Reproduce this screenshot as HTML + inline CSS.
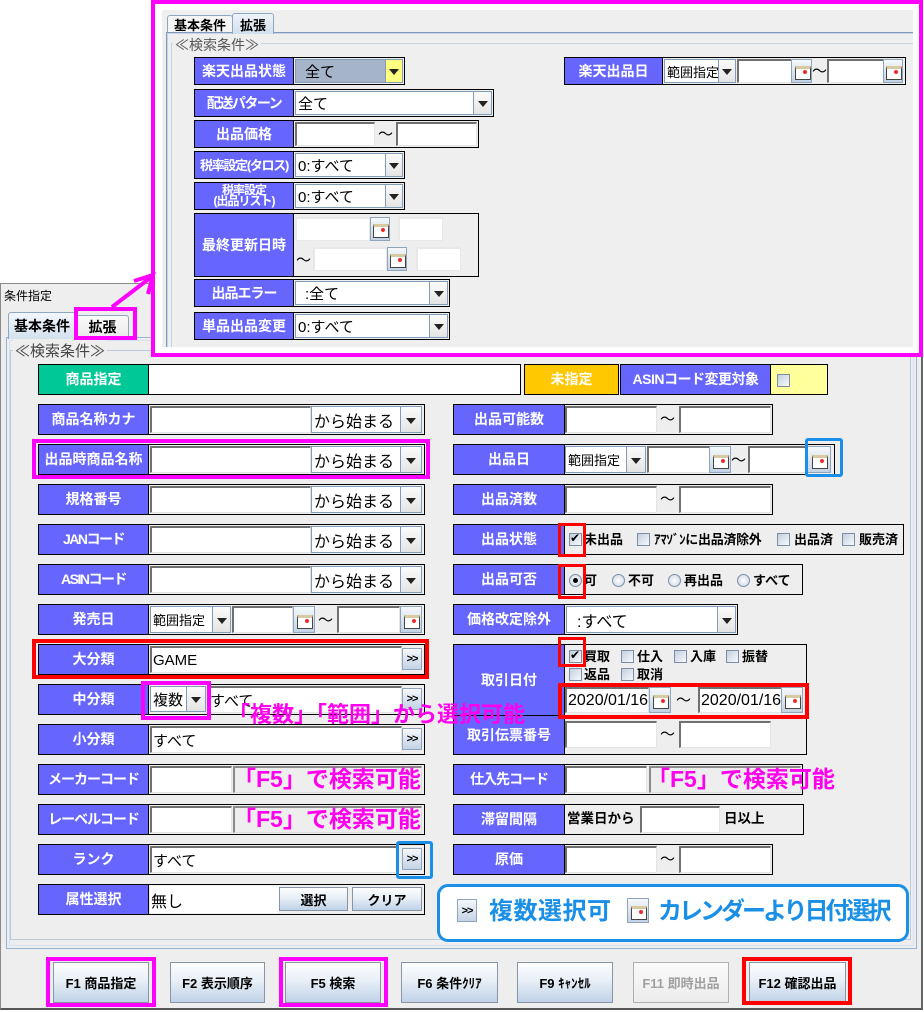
<!DOCTYPE html>
<html><head><meta charset="utf-8">
<style>
*{margin:0;padding:0;box-sizing:border-box}
body{width:924px;height:1012px;position:relative;background:#fff;overflow:hidden;font-family:"Liberation Sans","Noto Sans CJK JP",sans-serif;color:#000}
div,span,svg{position:absolute}
.r{border:1px solid #000;background:#eee}
.l{background:#6666ff;color:#fff;font-weight:bold;font-size:14px;display:flex;align-items:center;justify-content:center;border:1px solid #000;white-space:nowrap;text-align:center;line-height:13px}
.f{background:#fff;border-top:2px solid #707070;border-left:2px solid #707070;border-right:1px solid #e4e4e4;border-bottom:1px solid #e4e4e4;font-size:15px;display:flex;align-items:center;padding-left:1px;white-space:nowrap;overflow:hidden}
.gi{background:#eee;border-top:2px solid #8a8a8a;border-left:2px solid #8a8a8a;border-right:1px solid #ddd;border-bottom:1px solid #ddd}
.c{background:#fff;border:1px solid #7f9db9;font-size:15px;display:flex;align-items:center;padding-left:2px;white-space:nowrap;overflow:hidden}
.a{background:linear-gradient(#fbfbfb,#e4e4e4);border:1px solid #7f9db9}
.a::after{content:"";position:absolute;left:50%;top:50%;margin-left:-5px;margin-top:-2px;border-left:5px solid transparent;border-right:5px solid transparent;border-top:6px solid #222}
.k{background:linear-gradient(#f5f8fb,#c3d3e5);border:1px solid #8ea5bd}
.k::after{content:"";position:absolute;left:50%;top:50%;margin-left:-7px;margin-top:-5px;width:14px;height:10px;border:1px solid #444;border-top:3px solid #d9c9a0;background:radial-gradient(circle at 9px 3px,#e22 0,#e22 1.6px,#fff 2.4px)}
.g{background:linear-gradient(#f5f8fb,#c3d3e5);border:1px solid #8ea5bd;font-size:11px;font-weight:bold;display:flex;align-items:center;justify-content:center;color:#000;letter-spacing:-1px}
.t{font-size:13px;font-weight:bold;line-height:15px;white-space:nowrap}
.cb{width:13px;height:13px;border:1px solid #7c8ea6;background:linear-gradient(135deg,#c2cfdf,#f8fafc)}
.cb.on::after{content:"✔";position:absolute;left:0px;top:-3px;font-size:12px;color:#000;font-family:"DejaVu Sans",sans-serif}
.rd{width:13px;height:13px;border-radius:50%;border:1px solid #7c8ea6;background:radial-gradient(#fff,#c6d2e0)}
.rd.on::after{content:"";position:absolute;left:3px;top:3px;width:5px;height:5px;border-radius:50%;background:#000}
.btn{background:linear-gradient(#fdfeff 0%,#e8eff7 45%,#bfd2e7 100%);border:1px solid #8795a4;font-size:13px;font-weight:bold;display:flex;align-items:center;justify-content:center;white-space:nowrap}
.pk{border:4px solid #ff00ff}
.rb{border:4px solid #ff0000}
.bb{border:3px solid #1a8fe8;border-radius:3px}
.ann{color:#ff00ee;font-weight:bold;white-space:nowrap}
.tl{font-size:15px}
.n{letter-spacing:-1.5px}
</style></head><body>

<!-- main window -->
<div style="left:0;top:283px;width:923px;height:727px;background:#eee;border:1px solid #8a8a8a;border-bottom:2px solid #555;border-right:2px solid #666"></div>
<span style="left:4px;top:287px;font-size:12px">条件指定</span>

<div style="left:76px;top:315px;width:53px;height:23px;border:1px solid #8fa8c0;border-bottom:none;background:linear-gradient(#fbfbfb,#e9e9e9);font-size:14px;font-weight:bold;display:flex;align-items:center;justify-content:center;border-radius:3px 3px 0 0">拡張</div>
<div style="left:6px;top:337px;width:911px;height:612px;border:1px solid #98b3cf;box-shadow:inset 0 0 0 2px #eee,inset 0 0 0 3px #d5e1ec"></div>
<div style="left:8px;top:312px;width:68px;height:27px;border:1px solid #8fa8c0;border-bottom:none;background:linear-gradient(#f2f7fc,#d3e1ef);font-size:14px;font-weight:bold;display:flex;align-items:center;justify-content:center;border-radius:3px 3px 0 0">基本条件</div>
<div style="left:10px;top:350px;width:901px;height:590px;border:1px solid #b9cadb"></div>
<span style="left:13px;top:340px;background:#eee;font-size:15px;color:#444;padding:0 2px">≪検索条件≫</span>

<!-- 商品指定 row -->
<div class="r" style="left:38px;top:364px;width:483px;height:31px;background:#fff"></div>
<div class="l" style="left:38px;top:364px;width:111px;height:31px;background:#00c896">商品指定</div>
<div class="l" style="left:524px;top:364px;width:95px;height:31px;background:#ffc800">未指定</div>
<div class="l" style="left:620px;top:364px;width:151px;height:31px;letter-spacing:-0.5px">ASINコード変更対象</div>
<div class="r" style="left:770px;top:364px;width:58px;height:31px;background:#ffff9c"></div>
<div class="cb" style="left:777px;top:374px"></div>

<!-- left rows with から始まる -->
<div class="r" style="left:38px;top:404px;width:387px;height:31px"></div>
<div class="l" style="left:38px;top:404px;width:111px;height:31px">商品名称カナ</div>
<div class="f" style="left:150px;top:406px;width:161px;height:27px"></div>
<div class="c" style="left:311px;top:406px;width:90px;height:27px;font-size:16px">から始まる</div>
<div class="a" style="left:400px;top:406px;width:22px;height:27px"></div>

<div class="r" style="left:38px;top:444px;width:387px;height:31px"></div>
<div class="l" style="left:38px;top:444px;width:111px;height:31px">出品時商品名称</div>
<div class="f" style="left:150px;top:446px;width:161px;height:27px"></div>
<div class="c" style="left:311px;top:446px;width:90px;height:27px;font-size:16px">から始まる</div>
<div class="a" style="left:400px;top:446px;width:22px;height:27px"></div>

<div class="r" style="left:38px;top:484px;width:387px;height:31px"></div>
<div class="l" style="left:38px;top:484px;width:111px;height:31px">規格番号</div>
<div class="f" style="left:150px;top:486px;width:161px;height:27px"></div>
<div class="c" style="left:311px;top:486px;width:90px;height:27px;font-size:16px">から始まる</div>
<div class="a" style="left:400px;top:486px;width:22px;height:27px"></div>

<div class="r" style="left:38px;top:524px;width:387px;height:31px"></div>
<div class="l n" style="left:38px;top:524px;width:111px;height:31px">JANコード</div>
<div class="f" style="left:150px;top:526px;width:161px;height:27px"></div>
<div class="c" style="left:311px;top:526px;width:90px;height:27px;font-size:16px">から始まる</div>
<div class="a" style="left:400px;top:526px;width:22px;height:27px"></div>

<div class="r" style="left:38px;top:564px;width:387px;height:31px"></div>
<div class="l n" style="left:38px;top:564px;width:111px;height:31px">ASINコード</div>
<div class="f" style="left:150px;top:566px;width:161px;height:27px"></div>
<div class="c" style="left:311px;top:566px;width:90px;height:27px;font-size:16px">から始まる</div>
<div class="a" style="left:400px;top:566px;width:22px;height:27px"></div>

<!-- 発売日 -->
<div class="r" style="left:38px;top:604px;width:387px;height:31px"></div>
<div class="l" style="left:38px;top:604px;width:111px;height:31px">発売日</div>
<div class="c" style="left:150px;top:606px;width:63px;height:27px;font-size:13px">範囲指定</div>
<div class="a" style="left:212px;top:606px;width:19px;height:27px"></div>
<div class="f" style="left:232px;top:606px;width:61px;height:27px"></div>
<div class="k" style="left:293px;top:606px;width:22px;height:27px"></div>
<span class="tl" style="left:318px;top:609px">～</span>
<div class="f" style="left:337px;top:606px;width:63px;height:27px"></div>
<div class="k" style="left:400px;top:606px;width:22px;height:27px"></div>

<!-- 大分類 -->
<div class="r" style="left:38px;top:644px;width:387px;height:31px"></div>
<div class="l" style="left:38px;top:644px;width:111px;height:31px">大分類</div>
<div class="f" style="left:150px;top:646px;width:252px;height:27px">GAME</div>
<div class="g" style="left:402px;top:648px;width:20px;height:22px">&gt;&gt;</div>

<!-- 中分類 -->
<div class="r" style="left:38px;top:684px;width:387px;height:31px"></div>
<div class="l" style="left:38px;top:684px;width:111px;height:31px">中分類</div>
<div class="c" style="left:150px;top:686px;width:37px;height:26px">複数</div>
<div class="a" style="left:186px;top:686px;width:20px;height:26px"></div>
<div class="f" style="left:207px;top:686px;width:195px;height:27px">すべて</div>
<div class="g" style="left:402px;top:688px;width:20px;height:22px">&gt;&gt;</div>

<!-- 小分類 -->
<div class="r" style="left:38px;top:724px;width:387px;height:31px"></div>
<div class="l" style="left:38px;top:724px;width:111px;height:31px">小分類</div>
<div class="f" style="left:150px;top:726px;width:252px;height:27px">すべて</div>
<div class="g" style="left:402px;top:728px;width:20px;height:22px">&gt;&gt;</div>

<!-- メーカーコード -->
<div class="r" style="left:38px;top:764px;width:387px;height:31px"></div>
<div class="l" style="left:38px;top:764px;width:111px;height:31px;letter-spacing:-1px">メーカーコード</div>
<div class="f" style="left:150px;top:766px;width:82px;height:27px"></div>
<div class="gi" style="left:233px;top:766px;width:189px;height:27px"></div>

<!-- レーベルコード -->
<div class="r" style="left:38px;top:804px;width:387px;height:31px"></div>
<div class="l" style="left:38px;top:804px;width:111px;height:31px;letter-spacing:-1px">レーベルコード</div>
<div class="f" style="left:150px;top:806px;width:82px;height:27px"></div>
<div class="gi" style="left:233px;top:806px;width:189px;height:27px"></div>

<!-- ランク -->
<div class="r" style="left:38px;top:844px;width:387px;height:31px"></div>
<div class="l" style="left:38px;top:844px;width:111px;height:31px">ランク</div>
<div class="f" style="left:150px;top:846px;width:248px;height:27px">すべて</div>
<div class="g" style="left:402px;top:848px;width:20px;height:22px">&gt;&gt;</div>

<!-- 属性選択 -->
<div class="r" style="left:38px;top:884px;width:387px;height:31px"></div>
<div class="l" style="left:38px;top:884px;width:111px;height:31px">属性選択</div>
<div class="f" style="left:150px;top:886px;width:129px;height:27px;font-size:16px;border:none;background:#fff">無し</div>
<div class="btn" style="left:279px;top:887px;width:69px;height:24px">選択</div>
<div class="btn" style="left:352px;top:887px;width:70px;height:24px">クリア</div>

<!-- right column -->
<div class="r" style="left:453px;top:404px;width:320px;height:31px"></div>
<div class="l" style="left:453px;top:404px;width:112px;height:31px">出品可能数</div>
<div class="f" style="left:565px;top:406px;width:92px;height:27px"></div>
<span class="tl" style="left:660px;top:408px">～</span>
<div class="f" style="left:679px;top:406px;width:92px;height:27px"></div>

<div class="r" style="left:453px;top:444px;width:382px;height:31px"></div>
<div class="l" style="left:453px;top:444px;width:112px;height:31px">出品日</div>
<div class="c" style="left:565px;top:446px;width:62px;height:27px;font-size:13px">範囲指定</div>
<div class="a" style="left:626px;top:446px;width:20px;height:27px"></div>
<div class="f" style="left:647px;top:446px;width:63px;height:27px"></div>
<div class="k" style="left:709px;top:446px;width:22px;height:27px"></div>
<span class="tl" style="left:731px;top:449px">～</span>
<div class="f" style="left:748px;top:446px;width:59px;height:27px"></div>
<div class="k" style="left:806px;top:446px;width:25px;height:27px"></div>

<div class="r" style="left:453px;top:484px;width:320px;height:31px"></div>
<div class="l" style="left:453px;top:484px;width:112px;height:31px">出品済数</div>
<div class="f" style="left:565px;top:486px;width:92px;height:27px"></div>
<span class="tl" style="left:660px;top:488px">～</span>
<div class="f" style="left:679px;top:486px;width:92px;height:27px"></div>

<div class="r" style="left:453px;top:524px;width:451px;height:31px"></div>
<div class="l" style="left:453px;top:524px;width:112px;height:31px">出品状態</div>
<div class="cb on" style="left:569px;top:533px"></div><span class="t" style="left:584px;top:532px">未出品</span>
<div class="cb" style="left:637px;top:533px"></div><span class="t" style="left:654px;top:532px;letter-spacing:-0.3px">ｱﾏｿﾞﾝに出品済除外</span>
<div class="cb" style="left:777px;top:533px"></div><span class="t" style="left:794px;top:532px">出品済</span>
<div class="cb" style="left:842px;top:533px"></div><span class="t" style="left:859px;top:532px">販売済</span>

<div class="r" style="left:453px;top:564px;width:350px;height:31px"></div>
<div class="l" style="left:453px;top:564px;width:112px;height:31px">出品可否</div>
<div class="rd on" style="left:569px;top:574px"></div><span class="t" style="left:584px;top:573px">可</span>
<div class="rd" style="left:612px;top:574px"></div><span class="t" style="left:628px;top:573px">不可</span>
<div class="rd" style="left:668px;top:574px"></div><span class="t" style="left:684px;top:573px">再出品</span>
<div class="rd" style="left:737px;top:574px"></div><span class="t" style="left:753px;top:573px">すべて</span>

<div class="r" style="left:453px;top:604px;width:285px;height:31px"></div>
<div class="l" style="left:453px;top:604px;width:112px;height:31px">価格改定除外</div>
<div class="c" style="left:566px;top:606px;width:152px;height:27px;font-size:16px;padding-left:10px">:すべて</div>
<div class="a" style="left:717px;top:606px;width:19px;height:27px"></div>

<div class="r" style="left:453px;top:644px;width:354px;height:111px"></div>
<div class="l" style="left:453px;top:644px;width:112px;height:72px">取引日付</div>
<div class="l" style="left:453px;top:715px;width:112px;height:40px">取引伝票番号</div>
<div class="cb on" style="left:569px;top:650px"></div><span class="t" style="left:584px;top:649px">買取</span>
<div class="cb" style="left:621px;top:650px"></div><span class="t" style="left:637px;top:649px">仕入</span>
<div class="cb" style="left:674px;top:650px"></div><span class="t" style="left:690px;top:649px">入庫</span>
<div class="cb" style="left:726px;top:650px"></div><span class="t" style="left:742px;top:649px">振替</span>
<div class="cb" style="left:569px;top:668px"></div><span class="t" style="left:584px;top:667px">返品</span>
<div class="cb" style="left:621px;top:668px"></div><span class="t" style="left:637px;top:667px">取消</span>
<div class="f" style="left:565px;top:687px;width:84px;height:26px;font-size:16px">2020/01/16</div>
<div class="k" style="left:649px;top:687px;width:22px;height:26px"></div>
<span class="tl" style="left:676px;top:689px">～</span>
<div class="f" style="left:698px;top:687px;width:84px;height:26px;font-size:16px">2020/01/16</div>
<div class="k" style="left:781px;top:687px;width:22px;height:26px"></div>
<div class="f" style="left:565px;top:721px;width:92px;height:27px"></div>
<span class="tl" style="left:660px;top:723px">～</span>
<div class="f" style="left:679px;top:721px;width:92px;height:27px"></div>

<div class="r" style="left:453px;top:764px;width:350px;height:31px"></div>
<div class="l" style="left:453px;top:764px;width:112px;height:31px;letter-spacing:-1px">仕入先コード</div>
<div class="f" style="left:565px;top:766px;width:82px;height:27px"></div>
<div class="gi" style="left:649px;top:766px;width:152px;height:27px"></div>

<div class="r" style="left:453px;top:804px;width:351px;height:31px"></div>
<div class="l" style="left:453px;top:804px;width:112px;height:31px">滞留間隔</div>
<span class="t" style="left:567px;top:811px;font-size:13.5px">営業日から</span>
<div class="f" style="left:640px;top:806px;width:80px;height:27px"></div>
<span class="t" style="left:724px;top:811px;font-size:13.5px">日以上</span>

<div class="r" style="left:453px;top:844px;width:320px;height:31px"></div>
<div class="l" style="left:453px;top:844px;width:112px;height:31px">原価</div>
<div class="f" style="left:565px;top:846px;width:92px;height:27px"></div>
<span class="tl" style="left:660px;top:848px">～</span>
<div class="f" style="left:679px;top:846px;width:92px;height:27px"></div>

<!-- legend -->
<div style="left:437px;top:884px;width:472px;height:58px;border:3px solid #1a8fe8;border-radius:11px;background:#fff"></div>
<div class="g" style="left:457px;top:899px;width:20px;height:23px">&gt;&gt;</div>
<span style="left:489px;top:897px;font-size:24px;font-weight:bold;color:#1a8fe8;letter-spacing:0.5px;white-space:nowrap;line-height:30px">複数選択可</span>
<div class="k" style="left:627px;top:898px;width:22px;height:25px"></div>
<span style="left:658px;top:897px;font-size:24px;font-weight:bold;color:#1a8fe8;letter-spacing:-3px;white-space:nowrap;line-height:30px">カレンダーより日付選択</span>

<!-- bottom buttons -->
<div class="btn" style="left:53px;top:962px;width:96px;height:41px">F1 商品指定</div>
<div class="btn" style="left:170px;top:962px;width:95px;height:41px">F2 表示順序</div>
<div class="btn" style="left:285px;top:962px;width:96px;height:41px">F5 検索</div>
<div class="btn" style="left:401px;top:962px;width:97px;height:41px">F6 条件ｸﾘｱ</div>
<div class="btn" style="left:517px;top:962px;width:96px;height:41px">F9 ｷｬﾝｾﾙ</div>
<div class="btn" style="left:633px;top:962px;width:96px;height:41px;color:#a0a0a0;background:linear-gradient(#fafafa,#ececec);border-color:#b0b0b0">F11 即時出品</div>
<div class="btn" style="left:749px;top:962px;width:97px;height:41px">F12 確認出品</div>

<!-- highlight boxes main -->
<div class="pk" style="left:32px;top:439px;width:398px;height:40px"></div>
<div class="rb" style="left:32px;top:639px;width:397px;height:40px"></div>
<div class="pk" style="left:141px;top:681px;width:70px;height:39px"></div>
<div class="bb" style="left:396px;top:841px;width:37px;height:38px"></div>
<div class="bb" style="left:805px;top:438px;width:38px;height:39px"></div>
<div class="rb" style="left:558px;top:523px;width:28px;height:34px;border-width:3px"></div>
<div class="rb" style="left:558px;top:564px;width:28px;height:35px;border-width:3px"></div>
<div class="rb" style="left:558px;top:637px;width:28px;height:30px;border-width:3px"></div>
<div class="rb" style="left:558px;top:683px;width:251px;height:36px"></div>
<div class="pk" style="left:74px;top:307px;width:63px;height:33px"></div>
<div class="pk" style="left:46px;top:957px;width:110px;height:50px"></div>
<div class="pk" style="left:279px;top:957px;width:109px;height:50px"></div>
<div class="rb" style="left:742px;top:957px;width:110px;height:48px"></div>

<!-- annotations -->
<span class="ann" style="left:228px;top:701px;font-size:22px;line-height:28px">「複数」「範囲」から選択可能</span>
<span class="ann" style="left:233px;top:764px;font-size:23px;line-height:30px">「F5」で検索可能</span>
<span class="ann" style="left:233px;top:804px;font-size:23px;line-height:30px">「F5」で検索可能</span>
<span class="ann" style="left:647px;top:764px;font-size:23px;line-height:30px">「F5」で検索可能</span>

<!-- popup -->
<div style="left:151px;top:0;width:772px;height:357px;border:4px solid #ff00ff;background:#fff"></div>
<div style="left:162px;top:10px;width:751px;height:337px;background:#efefef;overflow:hidden">
  <div style="left:5px;top:5px;width:66px;height:18px;border:1px solid #8fa8c0;border-bottom:none;background:#f5f5f5;font-size:13px;font-weight:bold;display:flex;align-items:center;justify-content:center;border-radius:3px 3px 0 0">基本条件</div>
  <div style="left:4px;top:22px;width:760px;height:340px;border-top:1px solid #7f9db9;border-left:1px solid #7f9db9;box-shadow:inset 1px 1px 0 #c8d6e4"></div>
  <div style="left:70px;top:3px;width:42px;height:21px;border:1px solid #8fa8c0;border-bottom:none;background:linear-gradient(#eef4fa,#d2e0ee);font-size:13px;font-weight:bold;display:flex;align-items:center;justify-content:center;border-radius:3px 3px 0 0">拡張</div>
  <div style="left:9px;top:33px;width:760px;height:340px;border-top:1px solid #c6d4e2;border-left:1px solid #c6d4e2"></div>
  <span style="left:11px;top:25px;font-size:14px;color:#555;background:#efefef;padding:0 2px">≪検索条件≫</span>
</div>

<div class="r" style="left:194px;top:57px;width:211px;height:28px"></div>
<div class="l" style="left:194px;top:57px;width:100px;height:28px">楽天出品状態</div>
<div class="c" style="left:295px;top:59px;width:91px;height:24px;background:#a5b4c8;padding-left:9px">全て</div>
<div class="a" style="left:385px;top:59px;width:18px;height:24px;background:#ffff80"></div>

<div class="r" style="left:194px;top:89px;width:300px;height:28px"></div>
<div class="l" style="left:194px;top:89px;width:100px;height:28px;letter-spacing:-1.5px">配送パターン</div>
<div class="c" style="left:295px;top:91px;width:179px;height:24px">全て</div>
<div class="a" style="left:473px;top:91px;width:19px;height:24px"></div>

<div class="r" style="left:194px;top:120px;width:285px;height:28px"></div>
<div class="l" style="left:194px;top:120px;width:100px;height:28px">出品価格</div>
<div class="f" style="left:295px;top:122px;width:80px;height:24px"></div>
<span class="tl" style="left:378px;top:123px">～</span>
<div class="f" style="left:396px;top:122px;width:81px;height:24px"></div>

<div class="r" style="left:194px;top:151px;width:211px;height:28px"></div>
<div class="l" style="left:194px;top:151px;width:100px;height:28px;font-size:13px;letter-spacing:-1.3px">税率設定(タロス)</div>
<div class="c" style="left:295px;top:153px;width:91px;height:24px">0:すべて</div>
<div class="a" style="left:385px;top:153px;width:18px;height:24px"></div>

<div class="r" style="left:194px;top:182px;width:211px;height:28px"></div>
<div class="l" style="left:194px;top:182px;width:100px;height:28px;font-size:12px;line-height:11px;letter-spacing:-1px">税率設定<br>(出品リスト)</div>
<div class="c" style="left:295px;top:184px;width:91px;height:24px">0:すべて</div>
<div class="a" style="left:385px;top:184px;width:18px;height:24px"></div>

<div class="r" style="left:194px;top:213px;width:285px;height:64px"></div>
<div class="l" style="left:194px;top:213px;width:100px;height:64px">最終更新日時</div>
<div class="f" style="left:295px;top:217px;width:75px;height:24px;border-color:#e8e8e8"></div>
<div class="k" style="left:370px;top:217px;width:20px;height:24px"></div>
<div class="f" style="left:398px;top:217px;width:45px;height:24px;border-color:#e8e8e8"></div>
<span class="tl" style="left:296px;top:249px">～</span>
<div class="f" style="left:313px;top:247px;width:74px;height:24px;border-color:#e8e8e8"></div>
<div class="k" style="left:387px;top:247px;width:20px;height:24px"></div>
<div class="f" style="left:416px;top:247px;width:45px;height:24px;border-color:#e8e8e8"></div>

<div class="r" style="left:194px;top:279px;width:256px;height:28px"></div>
<div class="l" style="left:194px;top:279px;width:100px;height:28px;letter-spacing:-1px">出品エラー</div>
<div class="c" style="left:295px;top:281px;width:135px;height:24px;padding-left:9px">:全て</div>
<div class="a" style="left:429px;top:281px;width:19px;height:24px"></div>

<div class="r" style="left:194px;top:312px;width:256px;height:28px"></div>
<div class="l" style="left:194px;top:312px;width:100px;height:28px">単品出品変更</div>
<div class="c" style="left:295px;top:314px;width:135px;height:24px">0:すべて</div>
<div class="a" style="left:429px;top:314px;width:19px;height:24px"></div>

<div class="r" style="left:564px;top:57px;width:342px;height:28px"></div>
<div class="l" style="left:564px;top:57px;width:99px;height:28px">楽天出品日</div>
<div class="c" style="left:664px;top:59px;width:55px;height:24px;font-size:13px">範囲指定</div>
<div class="a" style="left:718px;top:59px;width:18px;height:24px"></div>
<div class="f" style="left:737px;top:59px;width:55px;height:24px"></div>
<div class="k" style="left:791px;top:59px;width:21px;height:24px"></div>
<span class="tl" style="left:812px;top:60px">～</span>
<div class="f" style="left:827px;top:59px;width:57px;height:24px"></div>
<div class="k" style="left:883px;top:59px;width:20px;height:24px"></div>

<!-- pink arrow -->
<svg style="left:0;top:0" width="924" height="1012">
  <line x1="112" y1="307" x2="150" y2="278" stroke="#ff00ff" stroke-width="4"/>
  <polyline points="134,281 153,275 148,294" fill="none" stroke="#ff00ff" stroke-width="4"/>
</svg>

</body></html>
